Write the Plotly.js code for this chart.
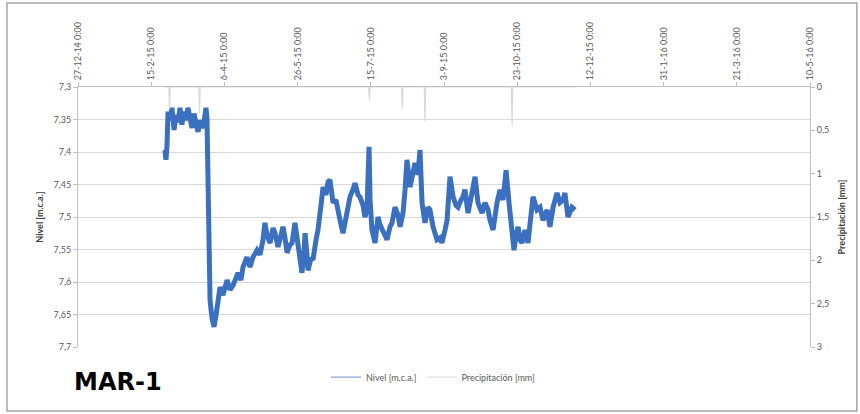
<!DOCTYPE html>
<html>
<head>
<meta charset="utf-8">
<script src="https://cdn.plot.ly/plotly-3.0.1.min.js"></script>
<style>
html,body{margin:0;padding:0;background:#fff;}
#chart{width:860px;height:414px;}
</style>
</head>
<body>
<div id="chart"></div>
<script>
// ---- data ----
const startDate = Date.UTC(2014, 11, 27); // 27-12-14 0:00

// Nivel [m.c.a.] : days after 27-12-14 and level values
const nivelDay = [59.4,60.1,60.8,61.5,62.8,64.2,65.6,66.9,68.3,69.7,
71.0,72.4,73.8,75.1,76.5,77.9,79.2,80.6,82.0,83.3,
84.7,86.1,87.4,88.1,88.8,89.5,90.2,91.5,92.9,94.3,
95.6,97.0,99.0,101.8,103.8,105.9,107.9,109.3,111.3,112.7,
115.4,117.5,119.5,122.3,124.3,126.4,127.7,129.1,131.2,133.2,
134.6,136.6,138.7,140.0,141.4,142.8,144.8,146.2,148.2,150.3,
151.6,153.0,154.4,155.1,156.4,157.1,159.2,160.5,162.6,163.9,
166.0,167.4,169.4,170.8,172.1,174.2,176.2,177.6,179.0,181.0,
183.1,184.4,185.8,187.8,189.2,191.3,192.6,194.7,196.0,197.4,
198.8,199.5,200.8,202.9,204.9,206.3,208.3,211.1,213.1,214.5,
216.5,218.6,220.0,222.0,223.4,224.7,226.8,228.1,230.2,232.2,
233.6,235.0,237.0,239.1,240.4,242.5,245.2,247.3,248.6,250.7,
252.1,254.1,256.2,258.2,259.6,261.6,263.0,264.3,266.4,269.1,
271.2,273.2,276.0,278.0,280.1,281.4,283.5,286.2,288.3,290.3,
292.4,294.4,296.5,297.8,299.2,300.6,301.9,303.3,305.3,307.4,
308.7,310.8,313.5,315.6,317.6,320.4,322.4,324.5,327.2,329.2,
331.3,332.6,334.7,337.4,339.5];

const nivelVal = [7.397,7.412,7.389,7.338,7.351,7.332,7.366,7.343,7.354,7.332,
7.358,7.338,7.351,7.332,7.348,7.363,7.341,7.357,7.369,7.351,
7.363,7.354,7.332,7.348,7.474,7.582,7.628,7.655,7.669,7.651,
7.628,7.608,7.620,7.597,7.612,7.605,7.594,7.586,7.597,7.577,
7.562,7.577,7.562,7.551,7.558,7.535,7.509,7.528,7.540,7.517,
7.525,7.546,7.528,7.515,7.532,7.555,7.543,7.540,7.509,7.546,
7.574,7.586,7.551,7.525,7.558,7.582,7.563,7.566,7.535,7.520,
7.482,7.454,7.466,7.446,7.443,7.478,7.474,7.494,7.505,7.525,
7.497,7.482,7.469,7.458,7.448,7.466,7.469,7.482,7.500,7.489,
7.392,7.474,7.520,7.540,7.500,7.512,7.520,7.535,7.515,7.509,
7.485,7.497,7.515,7.494,7.458,7.412,7.454,7.438,7.417,7.435,
7.397,7.478,7.509,7.485,7.489,7.515,7.535,7.532,7.540,7.520,
7.505,7.438,7.469,7.482,7.485,7.474,7.469,7.458,7.494,7.463,
7.438,7.478,7.494,7.478,7.489,7.505,7.520,7.478,7.458,7.474,
7.428,7.478,7.520,7.551,7.528,7.515,7.535,7.540,7.520,7.540,
7.512,7.469,7.489,7.485,7.505,7.489,7.515,7.485,7.463,7.478,
7.474,7.463,7.500,7.485,7.489];

// Precipitación [mm] : days after 27-12-14 and values
const precipDay = [59.4,62.0,62.5,63.0,82.5,83.0,83.5,198.5,199.0,199.5,221.0,221.5,222.0,236.5,237.0,237.5,296.0,296.5,297.0,339.5];
const precipVal = [0,0,0.25,0,0,0.3,0,0,0.15,0,0,0.25,0,0,0.4,0,0,0.45,0,0];

// axis ticks
const tickStart = '2014-12-27';
const xRange = ['2014-12-27', '2016-05-10'];
const leftRange = [7.7, 7.3];
const rightRange = [3, 0];

function toDate(d) {
  return new Date(startDate + d * 86400000).toISOString().slice(0, 16).replace('T', ' ');
}

const gray = '#595959';
const fontFam = 'Lato, "Open Sans", sans-serif';
const nivelColor = '#3b70c0';
const precipColor = '#d9d9d9';

const traces = [
  {
    x: nivelDay.map(toDate), y: nivelVal,
    type: 'scatter', mode: 'lines', name: 'Nivel [m.c.a.]',
    line: {color: nivelColor, width: 5},
    xaxis: 'x', yaxis: 'y', showlegend: false
  },
  {
    x: precipDay.map(toDate), y: precipVal,
    type: 'scatter', mode: 'lines', name: 'Precipitación [mm]',
    line: {color: precipColor, width: 1.2},
    xaxis: 'x', yaxis: 'y2', showlegend: false
  },
  // legend entries (thin sample lines as in the reference)
  {
    x: [null], y: [null], type: 'scatter', mode: 'lines', name: 'Nivel [m.c.a.]',
    line: {color: '#6f8fc4', width: 1}, xaxis: 'x', yaxis: 'y', hoverinfo: 'skip'
  },
  {
    x: [null], y: [null], type: 'scatter', mode: 'lines', name: 'Precipitación [mm]',
    line: {color: precipColor, width: 1}, xaxis: 'x', yaxis: 'y2', hoverinfo: 'skip'
  }
];

const layout = {
  width: 860, height: 414,
  margin: {l: 78, r: 50, t: 87, b: 67},
  paper_bgcolor: '#ffffff', plot_bgcolor: '#ffffff',
  separators: ',.',
  showlegend: true,
  font: {family: fontFam, size: 9, color: gray},
  xaxis: {
    type: 'date', side: 'top', range: xRange,
    tick0: tickStart, dtick: 50 * 86400000,
    tickformat: '%-d-%-m-%y %-H:%M', tickangle: -90,
    ticks: 'outside', ticklen: 4, tickcolor: '#bfbfbf',
    showline: true, linecolor: '#bfbfbf', linewidth: 1,
    showgrid: false, zeroline: false,
    tickfont: {size: 9, color: gray, family: fontFam}
  },
  yaxis: {
    range: leftRange, dtick: 0.05, tick0: 7.3,
    ticks: 'outside', ticklen: 4, tickcolor: '#bfbfbf',
    showline: true, linecolor: '#bfbfbf', linewidth: 1,
    gridcolor: '#d9d9d9', gridwidth: 1, zeroline: false,
    tickfont: {size: 9, color: gray, family: fontFam},
    title: {text: 'Nivel [m.c.a.]', font: {size: 9, color: '#404040', family: fontFam, weight: 'bold'}, standoff: 8}
  },
  yaxis2: {
    range: rightRange, dtick: 0.5, tick0: 0,
    overlaying: 'y', side: 'right',
    ticks: 'outside', ticklen: 4, tickcolor: '#bfbfbf',
    showline: true, linecolor: '#bfbfbf', linewidth: 1,
    showgrid: false, zeroline: false,
    tickfont: {size: 9, color: gray, family: fontFam},
    title: {text: 'Precipitación [mm]', font: {size: 9, color: '#404040', family: fontFam, weight: 'bold'}, standoff: 10}
  },
  legend: {
    orientation: 'h', x: 0.485, xanchor: 'center', y: -0.06, yanchor: 'top',
    font: {size: 9, color: gray, family: fontFam},
    itemwidth: 30, bgcolor: 'rgba(0,0,0,0)'
  },
  annotations: [
    {
      xref: 'paper', yref: 'paper', x: -0.008, y: -0.135,
      xanchor: 'left', yanchor: 'middle', showarrow: false,
      text: '<b>MAR-1</b>',
      font: {family: '"DejaVu Sans", sans-serif', size: 24, color: '#000000'}
    }
  ],
  shapes: [
    {
      type: 'rect', xref: 'paper', yref: 'paper',
      x0: -0.097, x1: 1.064, y0: -0.246, y1: 1.323,
      line: {color: '#a6a6a6', width: 1.5}, fillcolor: 'rgba(0,0,0,0)', layer: 'below'
    }
  ]
};

Plotly.newPlot('chart', traces, layout, {displayModeBar: false, staticPlot: true});
</script>
</body>
</html>
